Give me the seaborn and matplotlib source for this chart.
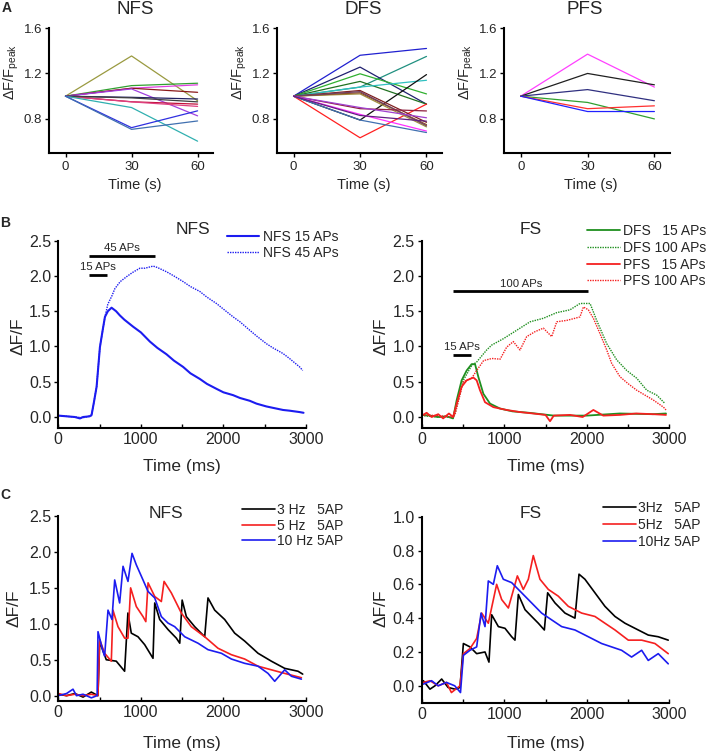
import matplotlib
matplotlib.use("Agg")
import matplotlib.pyplot as plt
import numpy as np
import pandas as pd
import seaborn as sns

sns.set_theme(style="ticks")
plt.rcParams["font.family"] = ["Liberation Sans", "DejaVu Sans"]
plt.rcParams["mathtext.fontset"] = "custom"
plt.rcParams["mathtext.rm"] = "Liberation Sans"
plt.rcParams["mathtext.it"] = "Liberation Sans:italic"

# ---------------- DATA ----------------
A_TIME = [0, 30, 60]
# each cell: (value at 30 s, value at 60 s); all start at 1.0
NFS_A_MID = [1.354, 1.093, 1.07, 1.07, 1.064, 0.99, 0.951, 0.95, 0.985, 0.90, 0.723, 0.708]
NFS_A_END = [0.96, 1.114, 1.10, 1.034, 0.827, 0.975, 0.93, 0.91, 0.95, 0.604, 0.871, 0.782]
NFS_A_COL = ["#9a9a40", "#30a030", "#e040e0", "#8b1a1a", "#a040e0", "#202060",
             "#c0103a", "#e04080", "#404040", "#30b0b0", "#3030e0", "#4070b0"]
DFS_A_MID = [1.36, 1.08, 1.256, 1.197, 1.13, 1.08, 0.79, 0.634, 1.05, 1.02, 1.03, 1.04,
             0.89, 0.90, 0.84, 0.79, 0.83]
DFS_A_END = [1.42, 1.35, 0.93, 1.02, 0.93, 1.14, 1.19, 0.93, 0.77, 0.73, 0.75, 0.74,
             0.87, 0.81, 0.693, 0.68, 0.78]
DFS_A_COL = ["#2020d0", "#209080", "#202070", "#30b030", "#207020", "#30c0c0", "#101010",
             "#ff2020", "#802020", "#a09040", "#905020", "#704060", "#902040", "#a040d0",
             "#ff30ff", "#4070b0", "#602080"]
PFS_A_MID = [1.37, 1.20, 1.058, 0.945, 0.89, 0.865]
PFS_A_END = [1.08, 1.10, 0.96, 0.80, 0.915, 0.865]
PFS_A_COL = ["#ff40ff", "#202020", "#303080", "#30a030", "#ff3030", "#2020ff"]

# Panel B, NFS
NFS15_T = [0, 100, 200, 262, 300, 380, 403, 430, 464, 504, 540, 565, 600, 645, 700, 746, 800,
           907, 1000, 1109, 1200, 1310, 1400, 1512, 1600, 1714, 1800, 1915, 2000, 2117, 2200,
           2319, 2400, 2520, 2600, 2722, 2800, 2923, 2970]
NFS15_V = [0.02, 0.01, 0.0, -0.02, 0.0, 0.01, 0.03, 0.2, 0.43, 0.99, 1.25, 1.42, 1.5, 1.55, 1.5,
           1.44, 1.38, 1.28, 1.2, 1.07, 0.98, 0.89, 0.80, 0.71, 0.62, 0.54, 0.47, 0.40, 0.35,
           0.31, 0.27, 0.23, 0.19, 0.15, 0.13, 0.10, 0.09, 0.07, 0.06]
NFS45_T = [0, 100, 200, 300, 403, 464, 504, 565, 600, 650, 685, 750, 827, 900, 988, 1050, 1149,
           1200, 1310, 1400, 1512, 1600, 1714, 1800, 1915, 2000, 2117, 2200, 2319, 2400, 2520,
           2600, 2722, 2800, 2923, 2960]
NFS45_V = [0.02, 0.01, 0.0, -0.01, 0.02, 0.43, 0.99, 1.42, 1.6, 1.72, 1.82, 1.92, 1.99, 2.05,
           2.11, 2.11, 2.14, 2.12, 2.06, 2.00, 1.92, 1.85, 1.78, 1.70, 1.61, 1.53, 1.42, 1.35,
           1.23, 1.15, 1.04, 0.98, 0.90, 0.83, 0.71, 0.66]

# Panel B, FS
DFS15_T = [0, 100, 200, 300, 380, 424, 484, 545, 605, 646, 686, 747, 828, 949, 1100, 1300,
           1600, 2000, 2400, 2800, 2960]
DFS15_V = [0.03, 0.02, 0.0, 0.01, -0.02, 0.24, 0.52, 0.66, 0.75, 0.75, 0.57, 0.33, 0.19, 0.12,
           0.08, 0.06, 0.02, 0.02, 0.05, 0.04, 0.05]
PFS15_T = [0, 60, 120, 200, 260, 330, 380, 424, 484, 545, 626, 666, 706, 767, 868, 1029, 1191,
           1350, 1500, 1555, 1600, 1797, 1950, 2080, 2200, 2403, 2600, 2807, 2960]
PFS15_V = [0.02, 0.06, 0.0, 0.04, -0.02, 0.05, 0.0, 0.19, 0.43, 0.52, 0.56, 0.52, 0.38, 0.21,
           0.14, 0.10, 0.07, 0.05, 0.03, -0.06, 0.02, 0.03, 0.0, 0.10, 0.02, 0.03, 0.05, 0.04, 0.03]
DFS100_T = [0, 200, 380, 403, 504, 605, 666, 787, 848, 989, 1151, 1313, 1474, 1636, 1797, 1918,
            2040, 2120, 2242, 2363, 2484, 2605, 2727, 2848, 2949]
DFS100_V = [0.02, 0.0, 0.0, 0.05, 0.52, 0.73, 0.78, 0.95, 1.02, 1.11, 1.23, 1.35, 1.40, 1.48,
            1.52, 1.61, 1.61, 1.37, 1.04, 0.81, 0.66, 0.55, 0.38, 0.31, 0.19]
PFS100_T = [0, 200, 380, 403, 504, 605, 666, 750, 850, 950, 1029, 1110, 1191, 1272, 1373, 1474,
            1575, 1636, 1757, 1858, 1918, 1959, 2019, 2080, 2161, 2242, 2302, 2403, 2504, 2605,
            2706, 2807, 2929, 2960]
PFS100_V = [0.03, 0.02, 0.0, 0.03, 0.50, 0.55, 0.66, 0.80, 0.83, 0.82, 0.99, 1.07, 0.95, 1.14,
            1.21, 1.26, 1.14, 1.35, 1.37, 1.40, 1.42, 1.56, 1.52, 1.40, 1.18, 0.95, 0.76, 0.57,
            0.47, 0.38, 0.31, 0.24, 0.14, 0.10]

# Panel C, NFS
C_NFS3_T = [0, 100, 200, 300, 400, 480, 501, 581, 702, 803, 843, 884, 965, 1046, 1147, 1168,
            1228, 1329, 1430, 1471, 1500, 1551, 1652, 1773, 1813, 1894, 2015, 2136, 2257, 2419,
            2580, 2742, 2903, 2960]
C_NFS3_V = [0.02, 0.0, 0.03, -0.02, 0.05, 0.0, 0.75, 0.50, 0.48, 0.34, 1.15, 0.87, 0.82, 0.71,
            0.52, 1.29, 1.06, 0.92, 0.80, 0.73, 1.33, 1.10, 0.96, 0.82, 1.36, 1.19, 1.06, 0.87,
            0.76, 0.59, 0.48, 0.38, 0.34, 0.30]
C_NFS5_T = [0, 100, 200, 300, 400, 480, 501, 561, 642, 662, 723, 804, 844, 876, 945, 1026, 1060,
            1087, 1168, 1248, 1281, 1369, 1490, 1611, 1773, 1934, 2096, 2257, 2419, 2580, 2742,
            2944]
C_NFS5_V = [0.03, 0.0, 0.02, 0.0, 0.02, 0.0, 0.78, 0.59, 0.48, 1.19, 0.96, 0.80, 0.80, 1.50,
            1.24, 1.10, 1.03, 1.57, 1.38, 1.31, 1.59, 1.43, 1.15, 0.96, 0.82, 0.66, 0.57, 0.51,
            0.41, 0.36, 0.31, 0.25]
C_NFS10_T = [0, 100, 178, 220, 300, 400, 470, 481, 541, 561, 602, 650, 683, 743, 784, 844, 893,
             945, 1026, 1087, 1168, 1248, 1329, 1410, 1531, 1692, 1813, 1975, 2096, 2257, 2419,
             2540, 2621, 2742, 2823, 2944]
C_NFS10_V = [0.0, 0.03, 0.09, 0.0, 0.02, -0.03, 0.0, 0.89, 0.62, 0.55, 1.19, 1.06, 1.61, 1.29,
             1.80, 1.59, 1.98, 1.82, 1.61, 1.45, 1.36, 1.10, 1.01, 0.96, 0.82, 0.73, 0.64, 0.59,
             0.51, 0.45, 0.41, 0.31, 0.20, 0.36, 0.27, 0.23]

# Panel C, FS
C_FS3_T = [20, 100, 161, 242, 320, 404, 464, 505, 585, 666, 767, 815, 848, 929, 1009, 1090, 1130,
           1171, 1252, 1332, 1413, 1486, 1526, 1615, 1736, 1857, 1906, 1978, 2099, 2220, 2342,
           2463, 2624, 2745, 2866, 2987]
C_FS3_V = [0.03, -0.02, 0.0, 0.04, -0.01, -0.02, -0.01, 0.25, 0.23, 0.19, 0.20, 0.14, 0.42,
           0.35, 0.34, 0.29, 0.27, 0.54, 0.45, 0.41, 0.37, 0.33, 0.55, 0.49, 0.43, 0.40, 0.66,
           0.63, 0.55, 0.47, 0.41, 0.37, 0.33, 0.30, 0.29, 0.27]
C_FS5_T = [20, 100, 200, 300, 360, 464, 505, 585, 666, 727, 807, 908, 969, 1050, 1159, 1231,
           1292, 1352, 1433, 1534, 1655, 1776, 1938, 2099, 2220, 2342, 2503, 2665, 2826, 2987]
C_FS5_V = [0.02, 0.03, 0.0, 0.02, -0.04, 0.0, 0.19, 0.22, 0.28, 0.43, 0.37, 0.60, 0.51, 0.46,
           0.65, 0.57, 0.63, 0.77, 0.63, 0.57, 0.53, 0.47, 0.43, 0.41, 0.37, 0.33, 0.27, 0.27,
           0.25, 0.19]
C_FS10_T = [20, 120, 200, 300, 400, 470, 505, 585, 666, 719, 767, 807, 868, 916, 989, 1090, 1211,
            1332, 1453, 1574, 1696, 1857, 2019, 2180, 2301, 2422, 2543, 2665, 2745, 2866, 2987]
C_FS10_V = [0.01, 0.03, 0.0, 0.02, 0.0, -0.04, 0.18, 0.21, 0.23, 0.43, 0.35, 0.62, 0.60, 0.71,
            0.63, 0.61, 0.55, 0.49, 0.43, 0.39, 0.35, 0.33, 0.29, 0.25, 0.23, 0.21, 0.17, 0.21,
            0.15, 0.19, 0.13]

# stimulus bars: (start ms, end ms, y, label)
B_NFS_BARS = [(375, 1171, 2.29, "45 APs"), (375, 585, 2.01, "15 APs")]
B_FS_BARS = [(383, 2019, 1.78, "100 APs"), (383, 594, 0.88, "15 APs")]

BLUE = "#1c1cf0"
GREEN = "#1f8f1f"
RED = "#f52020"
BLACK = "#000000"

# ---------------- FIGURE ----------------
W, H = 709, 753
fig = plt.figure(figsize=(W / 100, H / 100), dpi=100)
fig.patch.set_facecolor("white")


def px_axes(l, t, r, b):
    return fig.add_axes([l / W, 1 - b / H, (r - l) / W, (b - t) / H])


def ftext(x, y, s, **kw):
    fig.text(x / W, 1 - y / H, s, **kw)


def style(ax, xdir="out"):
    for s in ["top", "right"]:
        ax.spines[s].set_visible(False)
    for s in ["left", "bottom"]:
        ax.spines[s].set_linewidth(1.5)
        ax.spines[s].set_color("black")
    ax.tick_params(axis="y", direction="out", length=3, width=1, color="black", pad=2)
    ax.tick_params(axis="x", direction=xdir, length=3, width=1, color="black", pad=3)
    ax.tick_params(axis="x", which="minor", direction=xdir, length=3, width=1, color="black")
    ax.set_facecolor("white")
    ax.set_xlabel("")
    ax.set_ylabel("")


# ---- Panel A ----
A_specs = [
    ("NFS", NFS_A_MID, NFS_A_END, NFS_A_COL, 49, 213, 135, 11),
    ("DFS", DFS_A_MID, DFS_A_END, DFS_A_COL, 277, 442, 363, 239),
    ("PFS", PFS_A_MID, PFS_A_END, PFS_A_COL, 504, 670, 585, 466),
]
for name, mid, end, cols, l, r, tx, yl in A_specs:
    ax = px_axes(l, 28, r, 153)
    rows = []
    for i, (m, e) in enumerate(zip(mid, end)):
        for t, v in zip(A_TIME, [1.0, m, e]):
            rows.append({"t": t, "v": v, "cell": f"c{i}"})
    df = pd.DataFrame(rows)
    sns.lineplot(data=df, x="t", y="v", hue="cell", palette=cols, ax=ax,
                 legend=False, lw=0.9, estimator=None, sort=False)
    ax.set_xlim(-7.5, 67)
    ax.set_ylim(0.5, 1.6)
    ax.set_xticks([0, 30, 60])
    ax.set_yticks([0.8, 1.2, 1.6])
    style(ax)
    ax.tick_params(labelsize=9.5)
    ftext(tx, 9, name, fontsize=13.5, ha="center", va="center")
    ftext(yl, 72, "ΔF/F$_{\\mathrm{peak}}$", fontsize=10.5, rotation=90, ha="center", va="center")
    ftext((l + r) / 2 + 4, 185, "Time (s)", fontsize=10.5, ha="center", va="center")

ftext(7, 8, "A", fontsize=10, fontweight="bold", ha="center", va="center")


def trace_axes(l, t, r, b, ylim, yticks, ylabels):
    ax = px_axes(l, t, r, b)
    ax.set_xlim(0, 3000)
    ax.set_ylim(*ylim)
    ax.set_xticks([0, 1000, 2000, 3000])
    ax.set_xticks([500, 1500, 2500], minor=True)
    ax.set_yticks(yticks)
    ax.set_yticklabels(ylabels)
    return ax


def line(ax, t, v, color, ls="-", lw=1.3, label=None):
    sns.lineplot(x=t, y=v, ax=ax, color=color, lw=lw, linestyle=ls,
                 estimator=None, sort=False, label=label, legend=False)


DOT = (0, (1, 0.8))

# ---- Panel B NFS ----
axb1 = trace_axes(58.3, 240.7, 306, 428.3, (-0.16, 2.5),
                  [0, 0.5, 1.0, 1.5, 2.0, 2.5], ["0.0", "0.5", "1.0", "1.5", "2.0", "2.5"])
line(axb1, NFS15_T, NFS15_V, BLUE, "-", 1.5, "NFS 15 APs")
line(axb1, NFS45_T, NFS45_V, BLUE, DOT, 1.0, "NFS 45 APs")
for s, e, y, lab in B_NFS_BARS:
    axb1.plot([s, e], [y, y], color="black", lw=2, solid_capstyle="butt")
    axb1.text((s + e) / 2 if lab == "45 APs" else s + 100, y + 0.04, lab, fontsize=8.2,
              ha="center", va="bottom")
style(axb1, "in")
axb1.tick_params(labelsize=11.5)
axb1.legend(handles=axb1.get_lines()[:2], labels=["NFS 15 APs", "NFS 45 APs"],
            loc="upper left", bbox_to_anchor=(227 / W, 1 - 230 / H),
            bbox_transform=fig.transFigure, frameon=False, fontsize=10,
            handlelength=2.3, handletextpad=0.3, labelspacing=0.15,
            borderpad=0, borderaxespad=0)
ftext(193, 229, "NFS", fontsize=12.5, ha="center", va="center")

# ---- Panel B FS ----
axb2 = trace_axes(421.7, 240.7, 669.3, 428.3, (-0.16, 2.5),
                  [0, 0.5, 1.0, 1.5, 2.0, 2.5], ["0.0", "0.5", "1.0", "1.5", "2.0", "2.5"])
line(axb2, DFS15_T, DFS15_V, GREEN, "-", 1.3, "DFS   15 APs")
line(axb2, DFS100_T, DFS100_V, GREEN, DOT, 1.0, "DFS 100 APs")
line(axb2, PFS15_T, PFS15_V, RED, "-", 1.3, "PFS   15 APs")
line(axb2, PFS100_T, PFS100_V, RED, DOT, 1.0, "PFS 100 APs")
for s, e, y, lab in B_FS_BARS:
    axb2.plot([s, e], [y, y], color="black", lw=2, solid_capstyle="butt")
    axb2.text((s + e) / 2 if lab == "100 APs" else s + 100, y + 0.04, lab, fontsize=8.2,
              ha="center", va="bottom")
style(axb2, "in")
axb2.tick_params(labelsize=11.5)
axb2.legend(handles=axb2.get_lines()[:4],
            labels=["DFS   15 APs", "DFS 100 APs", "PFS   15 APs", "PFS 100 APs"],
            loc="upper left", bbox_to_anchor=(586.7 / W, 1 - 224 / H),
            bbox_transform=fig.transFigure, frameon=False, fontsize=10,
            handlelength=2.4, handletextpad=0.2, labelspacing=0.2,
            borderpad=0, borderaxespad=0)
ftext(531, 229, "FS", fontsize=12.5, ha="center", va="center")

ftext(5, 223, "B", fontsize=10, fontweight="bold", ha="center", va="center")
for x in (18, 381):
    ftext(x, 336, "ΔF/F", fontsize=12.5, rotation=90, ha="center", va="center")
for x in (182, 545.5):
    ftext(x, 466.7, "Time (ms)", fontsize=12.5, ha="center", va="center")

# ---- Panel C NFS ----
axc1 = trace_axes(58.3, 516, 306, 700.7, (-0.07, 2.5),
                  [0, 0.5, 1.0, 1.5, 2.0, 2.5], ["0.0", "0.5", "1.0", "1.5", "2.0", "2.5"])
line(axc1, C_NFS3_T, C_NFS3_V, BLACK, "-", 1.2, "3 Hz   5AP")
line(axc1, C_NFS5_T, C_NFS5_V, RED, "-", 1.2, "5 Hz   5AP")
line(axc1, C_NFS10_T, C_NFS10_V, BLUE, "-", 1.2, "10 Hz 5AP")
style(axc1, "in")
axc1.tick_params(labelsize=11.5)
axc1.legend(handles=axc1.get_lines()[:3], labels=["3 Hz   5AP", "5 Hz   5AP", "10 Hz 5AP"],
            loc="upper left", bbox_to_anchor=(241.7 / W, 1 - 503 / H),
            bbox_transform=fig.transFigure, frameon=False, fontsize=10,
            handlelength=2.4, handletextpad=0.15, labelspacing=0.12,
            borderpad=0, borderaxespad=0)
ftext(166, 513, "NFS", fontsize=12.5, ha="center", va="center")

# ---- Panel C FS ----
axc2 = trace_axes(421.7, 516.7, 669.3, 702.7, (-0.1, 1.0),
                  [0, 0.2, 0.4, 0.6, 0.8, 1.0], ["0.0", "0.2", "0.4", "0.6", "0.8", "1.0"])
line(axc2, C_FS3_T, C_FS3_V, BLACK, "-", 1.2, "3Hz   5AP")
line(axc2, C_FS5_T, C_FS5_V, RED, "-", 1.2, "5Hz   5AP")
line(axc2, C_FS10_T, C_FS10_V, BLUE, "-", 1.2, "10Hz 5AP")
style(axc2, "in")
axc2.tick_params(labelsize=11.5)
axc2.legend(handles=axc2.get_lines()[:3], labels=["3Hz   5AP", "5Hz   5AP", "10Hz 5AP"],
            loc="upper left", bbox_to_anchor=(603 / W, 1 - 501 / H),
            bbox_transform=fig.transFigure, frameon=False, fontsize=10,
            handlelength=2.4, handletextpad=0.15, labelspacing=0.2,
            borderpad=0, borderaxespad=0)
ftext(531, 514, "FS", fontsize=12.5, ha="center", va="center")

ftext(5, 495, "C", fontsize=10, fontweight="bold", ha="center", va="center")
for x in (14, 381):
    ftext(x, 608, "ΔF/F", fontsize=12.5, rotation=90, ha="center", va="center")
for x in (182, 545.5):
    ftext(x, 743.3, "Time (ms)", fontsize=12.5, ha="center", va="center")

fig.savefig("out.png", dpi=100, facecolor="white")
